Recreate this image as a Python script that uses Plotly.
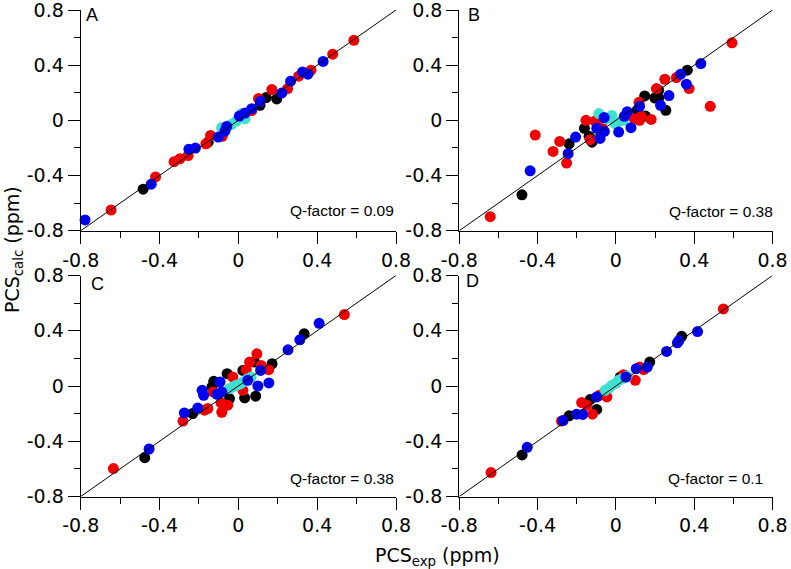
import plotly.graph_objects as go

# ---------------- data ----------------
# Panel A
A_red_x = [-0.646, -0.420, -0.326, -0.297, -0.255, -0.165, -0.141, -0.082, 0.068, 0.102, 0.170, 0.250, 0.306, 0.369, 0.479, 0.586]
A_red_y = [-0.650, -0.410, -0.300, -0.279, -0.255, -0.170, -0.109, -0.116, 0.070, 0.158, 0.223, 0.230, 0.320, 0.364, 0.480, 0.580]
A_blk_x = [-0.483, -0.153, 0.110, 0.141, 0.195]
A_blk_y = [-0.499, -0.158, 0.109, 0.165, 0.155]
A_cyn_x = [-0.085, -0.050, -0.034, -0.010, 0.017, 0.034]
A_cyn_y = [-0.053, -0.040, -0.029, -0.005, 0.049, 0.012]
A_blu_x = [-0.778, -0.442, -0.251, -0.218, -0.102, -0.068, -0.059, 0.005, 0.034, 0.068, 0.112, 0.221, 0.265, 0.326, 0.353, 0.430]
A_blu_y = [-0.722, -0.463, -0.209, -0.201, -0.121, -0.078, -0.044, 0.031, 0.053, 0.085, 0.138, 0.199, 0.284, 0.351, 0.335, 0.427]

# Panel B
B_red_x = [-0.642, -0.412, -0.321, -0.287, -0.252, -0.153, -0.132, -0.107, -0.072, 0.094, 0.121, 0.129, 0.118, 0.180, 0.207, 0.250, 0.309, 0.374, 0.482, 0.593]
B_red_y = [-0.698, -0.107, -0.225, -0.153, -0.310, 0.000, -0.140, -0.005, -0.024, 0.012, 0.000, 0.029, 0.131, 0.007, 0.230, 0.298, 0.310, 0.230, 0.102, 0.562]
B_blk_x = [-0.480, -0.239, -0.161, -0.137, -0.122, 0.108, 0.151, 0.147, 0.219, 0.199, 0.219, 0.255, 0.365]
B_blk_y = [-0.540, -0.170, -0.058, -0.116, -0.158, 0.073, 0.031, 0.177, 0.218, 0.162, 0.162, 0.073, 0.364]
B_cyn_x = [-0.087, -0.050, -0.021, -0.004, 0.015, 0.039]
B_cyn_y = [0.049, 0.010, 0.036, -0.024, -0.010, 0.000]
B_blu_x = [-0.438, -0.244, -0.206, -0.098, -0.081, -0.060, -0.059, 0.014, 0.043, 0.058, 0.077, 0.121, 0.228, 0.271, 0.331, 0.360, 0.434]
B_blu_y = [-0.366, -0.242, -0.121, -0.058, -0.131, 0.020, -0.080, -0.085, 0.029, 0.063, -0.053, 0.102, 0.109, 0.180, 0.335, 0.262, 0.412]

# Panel C
C_red_x = [-0.634, -0.281, -0.172, -0.155, -0.128, -0.088, -0.084, -0.054, -0.028, 0.023, 0.040, 0.057, 0.094, 0.116, 0.154, 0.538]
C_red_y = [-0.598, -0.254, -0.175, -0.163, -0.043, -0.122, -0.190, -0.139, 0.065, -0.031, 0.118, 0.173, 0.233, 0.149, 0.118, 0.517]
C_blk_x = [-0.475, -0.232, -0.134, -0.125, -0.057, -0.045, 0.032, 0.023, 0.088, 0.082, 0.171, 0.334]
C_blk_y = [-0.519, -0.199, -0.007, 0.034, 0.089, -0.091, -0.086, 0.113, -0.074, 0.173, 0.161, 0.378]
C_cyn_x = [-0.045, -0.025, -0.011, 0.010, 0.023, 0.045, 0.065]
C_cyn_y = [-0.019, -0.005, 0.005, 0.015, 0.029, 0.050, 0.065]
C_blu_x = [-0.453, -0.274, -0.206, -0.184, -0.176, -0.108, -0.093, -0.084, 0.048, 0.099, 0.113, 0.155, 0.252, 0.312, 0.410]
C_blu_y = [-0.456, -0.195, -0.159, -0.031, -0.067, -0.060, 0.029, -0.043, 0.041, 0.000, 0.113, 0.022, 0.262, 0.334, 0.454]

# Panel D
D_red_x = [-0.638, -0.278, -0.175, -0.149, -0.120, -0.084, -0.046, 0.039, 0.099, 0.121, 0.142, 0.549]
D_red_y = [-0.627, -0.254, -0.120, -0.139, -0.204, -0.067, -0.079, 0.082, 0.041, 0.137, 0.118, 0.558]
D_blk_x = [-0.479, -0.239, -0.132, -0.098, 0.022, 0.173, 0.336]
D_blk_y = [-0.499, -0.216, -0.098, -0.170, 0.065, 0.173, 0.360]
D_cyn_x = [-0.055, -0.035, -0.021, 0.000, 0.013, 0.035, 0.057]
D_cyn_y = [-0.031, -0.015, 0.005, 0.020, 0.041, 0.055, 0.070]
D_blu_x = [-0.453, -0.270, -0.201, -0.170, -0.098, 0.051, 0.104, 0.160, 0.259, 0.314, 0.322, 0.417]
D_blu_y = [-0.444, -0.250, -0.204, -0.206, -0.079, 0.065, 0.125, 0.137, 0.250, 0.313, 0.329, 0.394]

panel_labels = ["A", "B", "C", "D"]
q_factors = ["Q-factor = 0.09", "Q-factor = 0.38", "Q-factor = 0.38", "Q-factor = 0.1"]
diag = [-0.8, 0.8]
tick_vals = [-0.8, -0.4, 0, 0.4, 0.8]
tick_text = ["-0.8", "-0.4", "0", "0.4", "0.8"]

panels = [
    (A_red_x, A_red_y, A_blk_x, A_blk_y, A_cyn_x, A_cyn_y, A_blu_x, A_blu_y),
    (B_red_x, B_red_y, B_blk_x, B_blk_y, B_cyn_x, B_cyn_y, B_blu_x, B_blu_y),
    (C_red_x, C_red_y, C_blk_x, C_blk_y, C_cyn_x, C_cyn_y, C_blu_x, C_blu_y),
    (D_red_x, D_red_y, D_blk_x, D_blk_y, D_cyn_x, D_cyn_y, D_blu_x, D_blu_y),
]

# ---------------- layout geometry (pixels) ----------------
W, H = 791, 569
xpx = [(80.7, 396.0), (459.3, 772.5)]
ypx = [(10.0, 230.7), (275.5, 496.5)]
xdoms = [[a / W, b / W] for a, b in xpx]
ydoms = [[1 - b / H, 1 - a / H] for a, b in ypx]

# letter positions (left x px, cap-centre y px); Q-factor (right x px, centre y px)
letter_pos = [(84, 15.5), (466, 15.5), (89, 283.5), (464, 280.5)]
q_pos = [(396, 210), (775, 211), (396, 478.5), (765, 478.5)]

RED = "#f00000"
BLK = "#000000"
CYN = "#40e0d0"
BLU = "#0000f0"
FONT = "DejaVu Sans"
FONT2 = "Liberation Sans, Arial, sans-serif"

fig = go.Figure()
layout = dict(
    width=W, height=H, showlegend=False,
    margin=dict(l=0, r=0, t=0, b=0, autoexpand=False),
    paper_bgcolor="white", plot_bgcolor="white",
    font=dict(family=FONT, color="black"),
)
annotations = []

for i, p in enumerate(panels):
    n = i + 1
    xa = "x" if n == 1 else f"x{n}"
    ya = "y" if n == 1 else f"y{n}"
    rx, ry, kx, ky, cx, cy, bx, by = p
    for xs, ys, col in [(kx, ky, BLK), (rx, ry, RED), (cx, cy, CYN), (bx, by, BLU)]:
        fig.add_trace(go.Scatter(x=xs, y=ys, mode="markers", xaxis=xa, yaxis=ya,
                                 marker=dict(size=11, color=col, line=dict(width=0)),
                                 cliponaxis=False, hoverinfo="skip"))
    fig.add_trace(go.Scatter(x=diag, y=diag, mode="lines", xaxis=xa, yaxis=ya,
                             line=dict(color="black", width=1), hoverinfo="skip"))
    col = i % 2
    row = i // 2
    axcommon = dict(range=[-0.8, 0.8], showgrid=False, zeroline=False, showline=True,
                    linecolor="black", linewidth=1.2, ticks="outside", ticklen=12,
                    tickcolor="black", tickwidth=1.2, tickvals=tick_vals, ticktext=tick_text,
                    tickfont=dict(family=FONT, size=19, color="black"),
                    ticklabeloverflow="allow",
                    minor=dict(ticks="outside", ticklen=6, tickcolor="black", tickwidth=1.2,
                               dtick=0.2, showgrid=False),
                    fixedrange=True)
    layout["xaxis" if n == 1 else f"xaxis{n}"] = dict(axcommon, domain=xdoms[col], anchor=ya)
    layout["yaxis" if n == 1 else f"yaxis{n}"] = dict(axcommon, domain=ydoms[row], anchor=xa)
    lx, ly = letter_pos[i]
    annotations.append(dict(text=panel_labels[i], xref="paper", yref="paper",
                            x=lx / W, y=1 - ly / H, xanchor="left", yanchor="middle",
                            showarrow=False, font=dict(family=FONT2, size=18, color="black")))
    qx, qy = q_pos[i]
    annotations.append(dict(text=q_factors[i], xref="paper", yref="paper",
                            x=qx / W, y=1 - qy / H, xanchor="right", yanchor="middle",
                            showarrow=False, font=dict(family=FONT2, size=15.5, color="black")))

annotations.append(dict(text="PCS<sub>calc</sub> (ppm)", xref="paper", yref="paper",
                        x=14 / W, y=1 - 250 / H, textangle=-90, showarrow=False,
                        xanchor="center", yanchor="middle",
                        font=dict(family=FONT, size=19, color="black")))
annotations.append(dict(text="PCS<sub>exp</sub> (ppm)", xref="paper", yref="paper",
                        x=437 / W, y=1 - 556 / H, showarrow=False,
                        xanchor="center", yanchor="middle",
                        font=dict(family=FONT, size=19, color="black")))
layout["annotations"] = annotations
fig.update_layout(**layout)
fig.write_html("out.html", config={"displayModeBar": False},
               post_script="document.body.style.margin='0';document.body.style.overflow='hidden';")
